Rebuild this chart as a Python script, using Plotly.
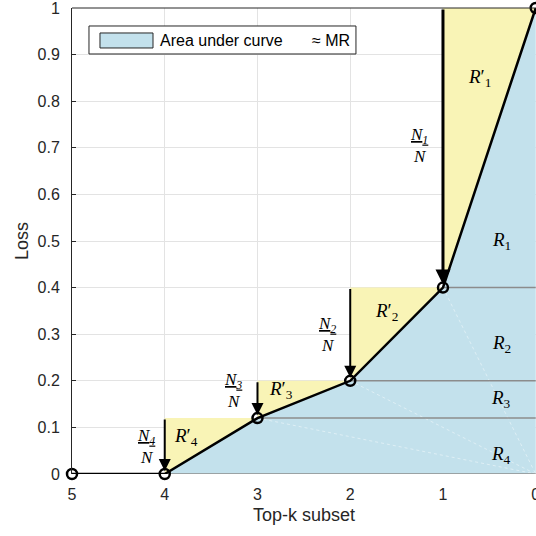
import plotly.graph_objects as go

# Data
k = [5, 4, 3, 2, 1, 0]
loss = [0, 0, 0.12, 0.2, 0.4, 1.0]
y_ticks = [0, 0.1, 0.2, 0.3, 0.4, 0.5, 0.6, 0.7, 0.8, 0.9, 1]
y_ticktext = ["0", "0.1", "0.2", "0.3", "0.4", "0.5", "0.6", "0.7", "0.8", "0.9", "1"]
frac_labels = ["N<sub>1</sub>", "N<sub>2</sub>", "N<sub>3</sub>", "N<sub>4</sub>"]
r_labels = ["1", "2", "3", "4"]
legend_text = "Area under curve"
legend_note = "≈ MR"

BLUE = "#c3e1ec"
YELLOW = "#f9f4b6"
SERIF = "Liberation Serif, DejaVu Serif, serif"
SANS = "Liberation Sans, Arial, sans-serif"

fig = go.Figure()

# blue area under curve
bx = k[1:] + [0]
by = loss[1:] + [0]
fig.add_trace(go.Scatter(x=bx, y=by, fill="toself", fillcolor=BLUE, mode="lines",
                         line=dict(width=0), showlegend=False, hoverinfo="skip"))

# yellow triangles
for i in range(1, 5):
    tx = [k[i], k[i], k[i + 1], k[i]]
    ty = [loss[i], loss[i + 1], loss[i + 1], loss[i]]
    fig.add_trace(go.Scatter(x=tx, y=ty, fill="toself", fillcolor=YELLOW, mode="lines",
                             line=dict(width=0), showlegend=False, hoverinfo="skip"))

# faint white diagonals to bottom-right corner
for i in range(2, 5):
    fig.add_trace(go.Scatter(x=[k[i], k[-1]], y=[loss[i], 0], mode="lines",
                             line=dict(color="rgba(255,255,255,0.55)", width=0.8, dash="dot"),
                             showlegend=False, hoverinfo="skip"))

# gray horizontal separators
for i in range(1, 5):
    fig.add_trace(go.Scatter(x=[k[i], k[-1]], y=[loss[i], loss[i]], mode="lines",
                             line=dict(color="#8c8c8c", width=1.5),
                             showlegend=False, hoverinfo="skip", cliponaxis=False))

# curve
fig.add_trace(go.Scatter(x=k, y=loss, mode="lines+markers", cliponaxis=False,
                         line=dict(color="black", width=2.5),
                         marker=dict(symbol="circle-open", size=10, color="black",
                                     line=dict(width=2.5, color="black")),
                         showlegend=False, hoverinfo="skip"))

# arrows
for i in range(1, 5):
    fig.add_annotation(x=k[i], y=loss[i], ax=k[i], ay=loss[i + 1],
                       xref="x", yref="y", axref="x", ayref="y",
                       showarrow=True, arrowhead=2, arrowsize=1.2 if i < 4 else 1.0,
                       arrowwidth=2 if i < 4 else 3, arrowcolor="black", text="",
                       standoff=3)

# fraction labels
frac_pos = [(1.26, 0.705), (2.25, 0.30), (3.26, 0.18), (4.2, 0.06)]
for lab, (fx, fy) in zip(frac_labels, frac_pos):
    fig.add_annotation(x=fx, y=fy, xref="x", yref="y", showarrow=False,
                       text=f"<u><i>{lab}</i></u><br><i>N</i>",
                       font=dict(family=SERIF, size=17, color="black"))

# R' labels
rp_pos = [(0.61, 0.85), (1.61, 0.347), (2.75, 0.18), (3.77, 0.08)]
for lab, (rx, ry) in zip(r_labels, rp_pos):
    fig.add_annotation(x=rx, y=ry, xref="x", yref="y", showarrow=False,
                       text=f"<i>R</i>′<sub>{lab}</sub>",
                       font=dict(family=SERIF, size=19, color="black"))

# R labels
r_pos = [(0.37, 0.50), (0.37, 0.28), (0.37, 0.16), (0.37, 0.04)]
for lab, (rx, ry) in zip(r_labels, r_pos):
    fig.add_annotation(x=rx, y=ry, xref="x", yref="y", showarrow=False,
                       text=f"<i>R</i><sub>{lab}</sub>",
                       font=dict(family=SERIF, size=19, color="black"))

# manual legend (paper coordinates)
fig.add_shape(type="rect", xref="paper", yref="paper", x0=0.0366, x1=0.612, y0=0.9013, y1=0.9614,
              fillcolor="white", line=dict(color="#262626", width=1), layer="above")
fig.add_shape(type="rect", xref="paper", yref="paper", x0=0.0603, x1=0.1746, y0=0.9142, y1=0.9464,
              fillcolor=BLUE, line=dict(color="#262626", width=1), layer="above")
fig.add_annotation(x=0.1853, y=0.931, xref="paper", yref="paper", xanchor="left", yanchor="middle",
                   showarrow=False, text=legend_text, font=dict(family=SANS, size=16, color="black"))
fig.add_annotation(x=0.604, y=0.931, xref="paper", yref="paper", xanchor="right", yanchor="middle",
                   showarrow=False, text=legend_note, font=dict(family=SANS, size=16, color="black"))

fig.update_layout(
    width=536, height=536,
    margin=dict(l=72, r=0, t=8, b=62, autoexpand=False),
    plot_bgcolor="white", paper_bgcolor="white",
    font=dict(family=SANS, size=16, color="#262626"),
    showlegend=False,
    xaxis=dict(range=[5, -0.003], autorange=False, tickvals=k, ticktext=[str(v) for v in k],
               showgrid=True, gridcolor="#e3e3e3", gridwidth=1, automargin=False,
               zeroline=False, showline=False, ticks="", ticklabelstandoff=9,
               ticklabeloverflow="allow", tickfont=dict(size=16),
               title=dict(text="Top-k subset", font=dict(size=18), standoff=6)),
    yaxis=dict(range=[0, 1], autorange=False, tickvals=y_ticks, ticktext=y_ticktext,
               showgrid=True, gridcolor="#e3e3e3", gridwidth=1, automargin=False,
               zeroline=False, showline=True, linecolor="#262626", linewidth=1,
               mirror=False, ticks="inside", ticklen=4, tickcolor="#262626",
               ticklabelstandoff=8, ticklabeloverflow="allow", tickfont=dict(size=16),
               title=dict(text="Loss", font=dict(size=18), standoff=4)),
)
# top axis line
fig.add_shape(type="line", xref="paper", yref="paper", x0=0, x1=1, y0=1, y1=1,
              line=dict(color="#262626", width=1))

fig.write_html("out.html")
